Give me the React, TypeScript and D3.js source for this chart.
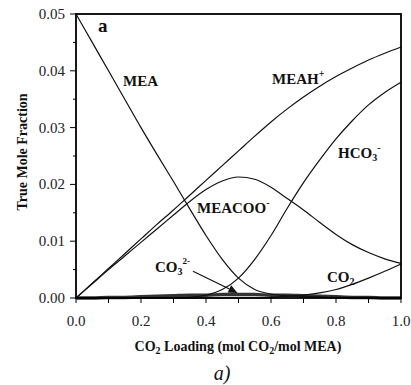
import React from "react";
import * as d3 from "d3";

// CO2 loading grid (mol CO2 / mol MEA)
const loading = [0, 0.05, 0.1, 0.15, 0.2, 0.25, 0.3, 0.35, 0.4, 0.45, 0.5, 0.55, 0.6, 0.65, 0.7, 0.75, 0.8, 0.85, 0.9, 0.95, 1.0];

// true mole fractions
const mea = [0.05, 0.045, 0.04, 0.035, 0.03, 0.0252, 0.0205, 0.0157, 0.011, 0.0068, 0.0035, 0.0015, 0.0007, 0.0004, 0.0003, 0.0002, 0.0001, 0.0001, 0.0001, 0, 0];
const meah = [0, 0.0026, 0.0052, 0.0078, 0.0104, 0.013, 0.0155, 0.0181, 0.0207, 0.0233, 0.0259, 0.0285, 0.031, 0.0333, 0.0354, 0.0373, 0.039, 0.0405, 0.0419, 0.0431, 0.0442];
const meacoo = [0, 0.0025, 0.005, 0.0074, 0.0098, 0.0122, 0.0146, 0.017, 0.0191, 0.0206, 0.0213, 0.0209, 0.0195, 0.0175, 0.0155, 0.0133, 0.0112, 0.0094, 0.008, 0.0069, 0.0061];
const hco3 = [0, 0, 0, 0, 0, 0, 0, 0.0001, 0.0005, 0.0015, 0.0035, 0.0068, 0.011, 0.0158, 0.0203, 0.0243, 0.028, 0.0312, 0.034, 0.0362, 0.038];
const co2 = [0, 0, 0, 0, 0, 0, 0, 0, 0, 0, 0, 0, 0.0001, 0.0003, 0.0005, 0.0009, 0.0015, 0.0024, 0.0035, 0.0047, 0.006];
const co3 = [0, 0, 0.0001, 0.0001, 0.0002, 0.0003, 0.0004, 0.0005, 0.0005, 0.0006, 0.0006, 0.0006, 0.0005, 0.0005, 0.0004, 0.0003, 0.0002, 0.0001, 0.0001, 0, 0];

const xTicks = [0, 0.2, 0.4, 0.6, 0.8, 1.0];
const yTicks = [0, 0.01, 0.02, 0.03, 0.04, 0.05];

const W = 411;
const H = 385;
const left = 76, right = 401, top = 14, bottom = 298;
const serif = "Liberation Serif, Times New Roman, Times, serif";

export default function App() {
  const x = d3.scaleLinear().domain([0, 1]).range([left, right]);
  const y = d3.scaleLinear().domain([0, 0.05]).range([bottom, top]);

  const line = (vals: number[]) =>
    d3.line<number>()
      .x((_, i) => x(loading[i]))
      .y((d) => y(d))
      .curve(d3.curveMonotoneX)(vals) || "";

  const series = [mea, meah, meacoo, hco3, co2];
  const xMinor = d3.range(0, 1.0001, 0.1);
  const yMinor = d3.range(0, 0.05001, 0.005);

  // arrow from the CO3 label down to the carbonate curve
  const ax1 = x(0.36), ay1 = y(0.0047);
  const ax2 = x(0.497), ay2 = y(0.0009);
  const ang = Math.atan2(ay2 - ay1, ax2 - ax1);
  const hl = 9, hw = 4;
  const bx = ax2 - hl * Math.cos(ang), by = ay2 - hl * Math.sin(ang);
  const head = `M${ax2},${ay2} L${bx + hw * Math.sin(ang)},${by - hw * Math.cos(ang)} L${bx - hw * Math.sin(ang)},${by + hw * Math.cos(ang)} Z`;

  const lbl = { fontFamily: serif, fontWeight: 700, fontSize: 15, fill: "#111" } as const;

  return (
    <div style={{ position: "absolute", left: 0, top: 0 }}>
      <svg width={W} height={H} style={{ display: "block", background: "#fff" }}>
        {/* carbonate, thick near-zero band */}
        <path d={line(co3)} fill="none" stroke="#333" strokeWidth={3.5} />
        {series.map((s, i) => (
          <path key={i} d={line(s)} fill="none" stroke="#111" strokeWidth={1.2} />
        ))}

        {/* frame */}
        <rect x={left} y={top} width={right - left} height={bottom - top} fill="none" stroke="#000" strokeWidth={1.8} />

        {/* y ticks */}
        {yMinor.map((v, i) => (
          <line key={"ym" + i} x1={left - (i % 2 === 0 ? 6 : 3)} x2={left} y1={y(v)} y2={y(v)} stroke="#000" strokeWidth={1} />
        ))}
        {yTicks.map((v) => (
          <text key={"yt" + v} x={65} y={y(v) + 5} textAnchor="end" fontFamily={serif} fontSize={15} fill="#222">
            {v.toFixed(2)}
          </text>
        ))}

        {/* x ticks */}
        {xMinor.map((v, i) => (
          <line key={"xm" + i} x1={x(v)} x2={x(v)} y1={bottom} y2={bottom + 5} stroke="#000" strokeWidth={1} />
        ))}
        {xTicks.map((v) => (
          <text key={"xt" + v} x={x(v)} y={326} textAnchor="middle" fontFamily={serif} fontSize={15} fill="#222">
            {v.toFixed(1)}
          </text>
        ))}

        {/* axis titles */}
        <text x={238} y={351} textAnchor="middle" fontFamily={serif} fontWeight={700} fontSize={14} fill="#111">
          CO<tspan fontSize={10} dy={3}>2</tspan>
          <tspan dy={-3}> Loading (mol CO</tspan>
          <tspan fontSize={10} dy={3}>2</tspan>
          <tspan dy={-3}>/mol MEA)</tspan>
        </text>
        <text transform={`translate(27,152) rotate(-90)`} textAnchor="middle" fontFamily={serif} fontWeight={700} fontSize={14} fill="#111">
          True Mole Fraction
        </text>
        <text x={222} y={380} textAnchor="middle" fontFamily={serif} fontStyle="italic" fontSize={20} fill="#111">
          a)
        </text>

        {/* panel letter */}
        <text x={98} y={32} fontFamily={serif} fontWeight={700} fontSize={19} fill="#111">a</text>

        {/* curve labels */}
        <text x={123} y={86} {...lbl}>MEA</text>
        <text x={272} y={84} {...lbl}>
          MEAH<tspan fontSize={10} dy={-7}>+</tspan>
        </text>
        <text x={338} y={158} {...lbl}>
          HCO<tspan fontSize={10} dy={3}>3</tspan>
          <tspan fontSize={10} dy={-10}>-</tspan>
        </text>
        <text x={197} y={213} {...lbl}>
          MEACOO<tspan fontSize={10} dy={-7}>-</tspan>
        </text>
        <text x={155} y={272} {...lbl}>
          CO<tspan fontSize={10} dy={3}>3</tspan>
          <tspan fontSize={9} dy={-11}>2-</tspan>
        </text>
        <text x={327} y={282} {...lbl}>
          CO<tspan fontSize={10} dy={3}>2</tspan>
        </text>

        {/* arrow */}
        <line x1={ax1} y1={ay1} x2={bx} y2={by} stroke="#111" strokeWidth={1.2} />
        <path d={head} fill="#111" />
      </svg>
    </div>
  );
}
